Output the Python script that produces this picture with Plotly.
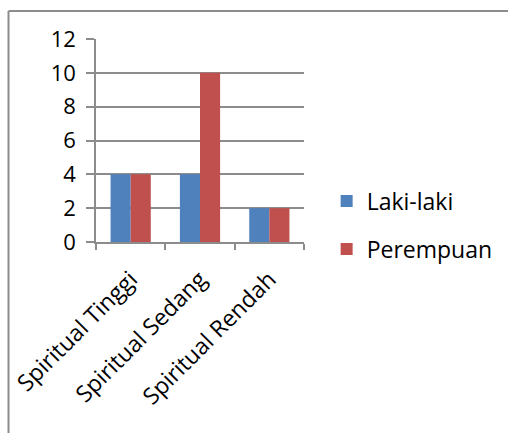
import plotly.graph_objects as go

categories = ["Spiritual Tinggi", "Spiritual Sedang", "Spiritual Rendah"]
laki_laki = [4, 4, 2]
perempuan = [4, 10, 2]
y_ticks = [0, 2, 4, 6, 8, 10, 12]

FONT = "Open Sans, Liberation Sans, sans-serif"
GRID = "#8c8c8c"

fig = go.Figure()
fig.add_trace(go.Bar(name="Laki-laki", x=categories, y=laki_laki,
                     marker=dict(color="#4F81BD", line=dict(width=0)),
                     legendgroup="a"))
fig.add_trace(go.Bar(name="Perempuan", x=categories, y=perempuan,
                     marker=dict(color="#C0504D", line=dict(width=0)),
                     legendgroup="b"))

fig.update_layout(
    width=508, height=433,
    margin=dict(l=96, r=204, t=39, b=191),
    paper_bgcolor="white", plot_bgcolor="white",
    barmode="group", bargap=0.42, bargroupgap=0,
    font=dict(family=FONT, size=22, color="#000000"),
    legend=dict(xref="container", yref="container",
                x=0.643, y=0.480, xanchor="left", yanchor="middle",
                font=dict(size=23), tracegroupgap=15,
                bgcolor="rgba(0,0,0,0)", itemwidth=30),
    showlegend=True,
)
fig.update_xaxes(
    type="category", tickangle=-45, tickson="boundaries",
    ticks="outside", ticklen=6, tickcolor=GRID, tickwidth=1.5,
    showline=True, linecolor=GRID, linewidth=1.5, automargin=False,
    showgrid=False, tickfont=dict(size=23), ticklabelstandoff=13,
)
fig.update_yaxes(
    range=[0, 12], tickvals=y_ticks, ticks="outside", ticklen=8,
    tickcolor=GRID, tickwidth=1.5, showline=True, linecolor=GRID,
    linewidth=1.5, showgrid=True, gridcolor=GRID, gridwidth=1.5,
    zeroline=False, ticklabelstandoff=6, tickfont=dict(size=22),
    automargin=False,
)

# Frame lines along the top and left of the chart area
fig.add_shape(type="line", xref="paper", yref="paper",
              x0=(8.5 - 96) / 208, x1=(508 - 96) / 208,
              y0=(433 - 191 - 11) / 203, y1=(433 - 191 - 11) / 203,
              line=dict(color="#8c8c8c", width=2))
fig.add_shape(type="line", xref="paper", yref="paper",
              x0=(8.5 - 96) / 208, x1=(8.5 - 96) / 208,
              y0=(433 - 191 - 11) / 203, y1=(220 - 433) / 203,
              line=dict(color="#8c8c8c", width=2))

fig.write_html("out.html")
